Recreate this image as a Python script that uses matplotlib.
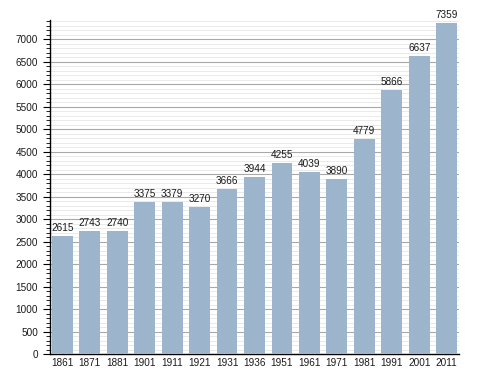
import numpy as np
import matplotlib
matplotlib.use('Agg')
import matplotlib.pyplot as plt
from matplotlib.ticker import MultipleLocator

plt.rcParams['font.family'] = ['Liberation Sans', 'DejaVu Sans']

years = ['1861', '1871', '1881', '1901', '1911', '1921', '1931', '1936',
         '1951', '1961', '1971', '1981', '1991', '2001', '2011']
population = [2615, 2743, 2740, 3375, 3379, 3270, 3666, 3944,
              4255, 4039, 3890, 4779, 5866, 6637, 7359]

fig = plt.figure(figsize=(4.88, 3.73), dpi=100)
ax = fig.add_axes([50/488, 1-354/373, 409/488, 334/373])

xpos = np.arange(len(years))
bars = ax.bar(xpos, population, width=0.76, color='#9db4cd', zorder=3)

# labels above bars
for x, v in zip(xpos, population):
    ax.text(x, v + 70, str(v), ha='center', va='bottom', fontsize=7.2, color='#1a1a1a', zorder=4)

ax.set_xlim(-0.45, len(years) - 0.55)
ax.set_ylim(0, 7430)
ax.set_xticks(xpos)
ax.set_xticklabels(years, fontsize=7.2, color='#1a1a1a')
ax.tick_params(axis='x', length=0, pad=3)

ax.yaxis.set_major_locator(MultipleLocator(500))
ax.yaxis.set_minor_locator(MultipleLocator(100))
ax.tick_params(axis='y', which='major', length=5, width=0.8, labelsize=7.2,
               labelcolor='#1a1a1a', direction='out')
ax.tick_params(axis='y', which='minor', length=3, width=0.6, direction='out')
ax.grid(axis='y', which='major', color='#a8a8a8', linewidth=0.8, zorder=1)
ax.grid(axis='y', which='minor', color='#e6e6e6', linewidth=0.6, zorder=0)

for s in ['top', 'right']:
    ax.spines[s].set_visible(False)
ax.spines['left'].set_linewidth(1.0)
ax.spines['bottom'].set_linewidth(1.0)

plt.savefig('out.png', dpi=100)
